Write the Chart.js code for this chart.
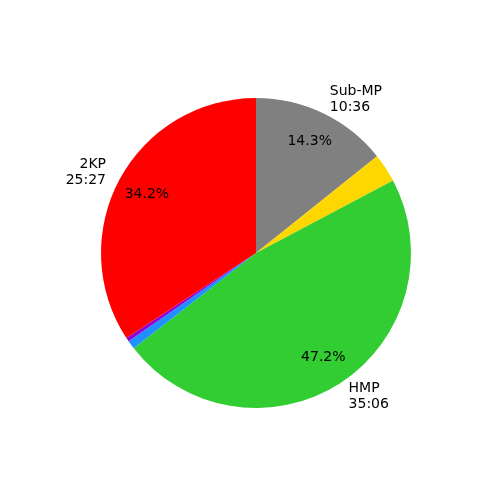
<!DOCTYPE html>
<html lang="en">
<head>
    <meta charset="UTF-8">
    <title>Pie</title>
    <style>
        body { margin: 0; padding: 0; background: #fff; }
        #wrap { width: 500px; height: 500px; }
    </style>
</head>
<body>
    <div id="wrap"><canvas id="pie" width="500" height="500"></canvas></div>

    <script src="https://cdn.jsdelivr.net/npm/chart.js"></script>
    <script>
        // clockwise from 12 o'clock (Chart.js direction)
        const names = ['Sub-MP', '', 'HMP', '', '', '2KP'];
        const seconds = [636, 134, 2106, 40, 18, 1527];
        const colors = ['#808080', '#ffd700', '#32cd32', '#1e90ff', '#9400d3', '#ff0000'];

        const total = seconds.reduce((a, b) => a + b, 0);

        function mmss(s) {
            const m = Math.floor(s / 60);
            const r = s % 60;
            return m + ':' + (r < 10 ? '0' : '') + r;
        }

        const pieLabels = {
            id: 'pieLabels',
            afterDatasetsDraw(chart) {
                const ctx = chart.ctx;
                const arcs = chart.getDatasetMeta(0).data;
                ctx.save();
                ctx.font = '14px "DejaVu Sans"';
                ctx.fillStyle = '#000';
                arcs.forEach((arc, i) => {
                    if (!names[i]) return;
                    const p = arc.getProps(['x', 'y', 'startAngle', 'endAngle', 'outerRadius'], true);
                    const mid = (p.startAngle + p.endAngle) / 2;
                    const c = Math.cos(mid), s = Math.sin(mid);

                    // percentage inside
                    const pct = (seconds[i] / total * 100).toFixed(1) + '%';
                    ctx.textAlign = 'center';
                    ctx.textBaseline = 'middle';
                    ctx.fillText(pct, p.x + 0.8 * p.outerRadius * c, p.y + 0.8 * p.outerRadius * s);

                    // name + time outside
                    const lx = p.x + 1.1 * p.outerRadius * c;
                    const ly = p.y + 1.1 * p.outerRadius * s;
                    ctx.textAlign = c < 0 ? 'right' : 'left';
                    ctx.fillText(names[i], lx, ly - 8);
                    ctx.fillText(mmss(seconds[i]), lx, ly + 8);
                });
                ctx.restore();
            }
        };

        new Chart(document.getElementById('pie').getContext('2d'), {
            type: 'pie',
            data: {
                labels: names,
                datasets: [{
                    data: seconds,
                    backgroundColor: colors,
                    borderWidth: 0
                }]
            },
            options: {
                responsive: false,
                animation: false,
                layout: { padding: { left: 101, right: 89, top: 98, bottom: 92 } },
                plugins: {
                    legend: { display: false },
                    tooltip: { enabled: false }
                }
            },
            plugins: [pieLabels]
        });
    </script>
</body>
</html>
